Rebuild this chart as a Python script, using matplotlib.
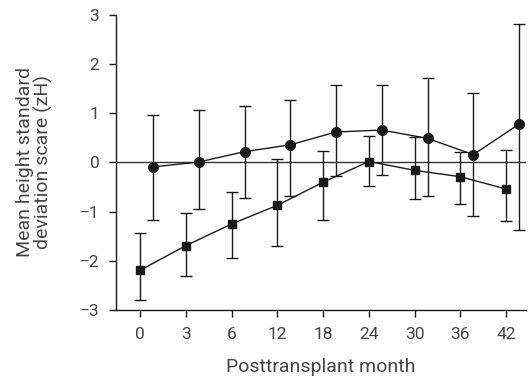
import matplotlib.pyplot as plt
import numpy as np

months = ['0', '3', '6', '12', '18', '24', '30', '36', '42']

# circle series
circle_mean = [-0.09, 0.01, 0.22, 0.36, 0.62, 0.66, 0.49, 0.16, 0.78]
circle_hi = [0.96, 1.06, 1.15, 1.27, 1.57, 1.58, 1.72, 1.41, 2.82]
circle_lo = [-1.17, -0.95, -0.73, -0.68, -0.27, -0.26, -0.69, -1.09, -1.37]

# square series
square_mean = [-2.19, -1.69, -1.25, -0.87, -0.40, 0.02, -0.16, -0.29, -0.54]
square_hi = [-1.44, -1.03, -0.61, 0.07, 0.23, 0.53, 0.52, 0.22, 0.25]
square_lo = [-2.80, -2.30, -1.95, -1.70, -1.18, -0.48, -0.75, -0.84, -1.20]

txt = '#444444'
ink = '#1a1a1a'

plt.rcParams['font.family'] = ['Roboto', 'DejaVu Sans']

fig = plt.figure(figsize=(5.28, 3.78), dpi=100)
ax = fig.add_axes([0.2197, 0.18, 0.7763, 0.7803])

x = np.arange(len(months))
xc = x + 0.28

ax.axhline(0, color='#333333', lw=1.0, zorder=1)

sq_err = [np.array(square_mean) - np.array(square_lo), np.array(square_hi) - np.array(square_mean)]
ci_err = [np.array(circle_mean) - np.array(circle_lo), np.array(circle_hi) - np.array(circle_mean)]

ax.errorbar(x, square_mean, yerr=sq_err, fmt='-s', color=ink, ms=5.5, lw=1.0,
            elinewidth=1.0, capsize=4.5, capthick=1.0, zorder=3)
ax.errorbar(xc, circle_mean, yerr=ci_err, fmt='-o', color=ink, ms=7, lw=1.0,
            elinewidth=1.0, capsize=4.5, capthick=1.0, zorder=3)

ax.set_xlim(-0.53, 8.43)
ax.set_ylim(-3, 3)
ax.set_xticks(x)
ax.set_xticklabels(months)
ax.set_yticks([-3, -2, -1, 0, 1, 2, 3])
ax.set_yticklabels(['\u22123', '\u22122', '\u22121', '0', '1', '2', '3'])

for s in ['top', 'right']:
    ax.spines[s].set_visible(False)
for s in ['left', 'bottom']:
    ax.spines[s].set_color(ink)
    ax.spines[s].set_linewidth(1.0)

ax.tick_params(direction='out', length=5, width=1.0, color=ink,
               labelcolor=txt, labelsize=12.5, pad=7)

ax.set_xlabel('Posttransplant month', fontsize=14, color=txt, labelpad=12)
ax.set_ylabel('Mean height standard\ndeviation scare (zH)', fontsize=14,
              color=txt, labelpad=19, linespacing=1.0)

fig.savefig('out.png', dpi=100)
